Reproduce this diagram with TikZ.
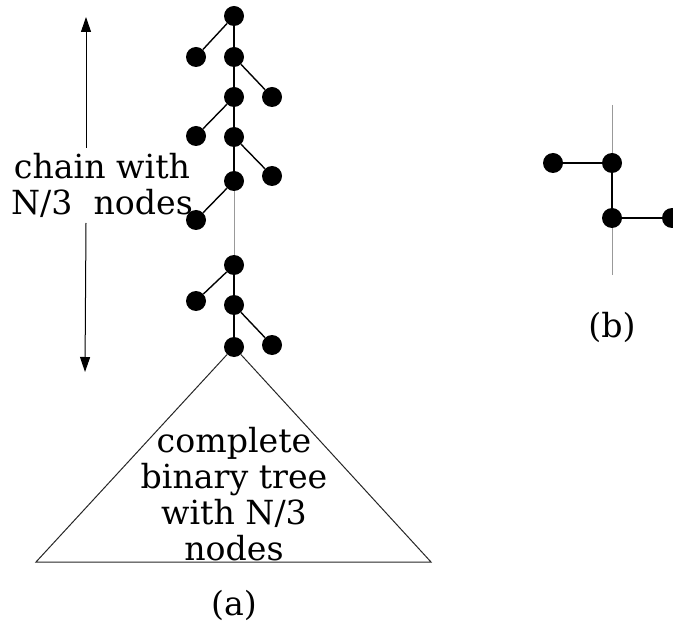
\documentclass[tikz,border=0pt]{standalone}
\usepackage{fontspec}
\setmainfont{DejaVu Serif}
\usetikzlibrary{arrows.meta}
\tikzset{
  dot/.style={circle,fill=black,inner sep=0pt,minimum size=10pt},
  edge/.style={line width=0.7pt},
  faint/.style={line width=0.5pt,black!40},
  outline/.style={line width=0.5pt,black!85},
  lbl/.style={font=\fontsize{16.6}{18}\selectfont,align=center,inner sep=0pt},
  span/.style={line width=0.5pt,-{Triangle[length=7.5pt,width=5pt]}}
}
\begin{document}
\begin{tikzpicture}[x=0.5pt,y=-0.5pt]
\useasboundingbox (0,0) rectangle (673,630);

% (a) the chain with its alternating leaves
\node[dot] (c1) at (234,16) {};
\node[dot] (c2) at (234,57) {};
\node[dot] (c3) at (234,97) {};
\node[dot] (c4) at (234,137) {};
\node[dot] (c5) at (234,181) {};
\node[dot] (c6) at (234,265) {};
\node[dot] (c7) at (234,305) {};
\node[dot] (c8) at (234,347) {};
\node[dot] (l1) at (196,57) {};
\node[dot] (l2) at (272,97) {};
\node[dot] (l3) at (196,136) {};
\node[dot] (l4) at (272,176) {};
\node[dot] (l5) at (196,220) {};
\node[dot] (l6) at (196,301) {};
\node[dot] (l7) at (272,345) {};

\draw[edge] (c1) -- (c2) -- (c3) -- (c4) -- (c5);
\draw[edge] (c6) -- (c7) -- (c8);
\draw[faint] (c5) -- (c6);
\draw[edge] (c1) -- (l1);
\draw[edge] (c2) -- (l2);
\draw[edge] (c3) -- (l3);
\draw[edge] (c4) -- (l4);
\draw[edge] (c5) -- (l5);
\draw[edge] (c6) -- (l6);
\draw[edge] (c7) -- (l7);

% complete binary tree below the chain
\coordinate (bl) at (36,562);
\coordinate (br) at (431,562);
\draw[outline] (c8) -- (bl) -- (br) -- (c8);
\node[lbl] (tree) at (234,494) {complete\\binary tree\\with N/3\\nodes};

% length of the chain
\node[lbl] (chain) at (102,185) {chain with\\N/3\ \ nodes};
\coordinate (up0) at (86,148);
\coordinate (up1) at (86,17);
\coordinate (dn0) at (86,223);
\coordinate (dn1) at (85,372);
\draw[span] (up0) -- (up1);
\draw[span] (dn0) -- (dn1);

\node[lbl] (capa) at (234,605) {(a)};

% (b) a single step of the chain
\node[dot] (b1) at (553,163) {};
\node[dot] (b2) at (612,163) {};
\node[dot] (b3) at (612,218) {};
\node[dot] (b4) at (672,218) {};
\coordinate (bt) at (612,105);
\coordinate (bb) at (612,275);
\draw[faint] (bt) -- (b2);
\draw[faint] (b3) -- (bb);
\draw[edge] (b1) -- (b2) -- (b3) -- (b4);
\node[lbl] (capb) at (612,327) {(b)};
\end{tikzpicture}
\end{document}
